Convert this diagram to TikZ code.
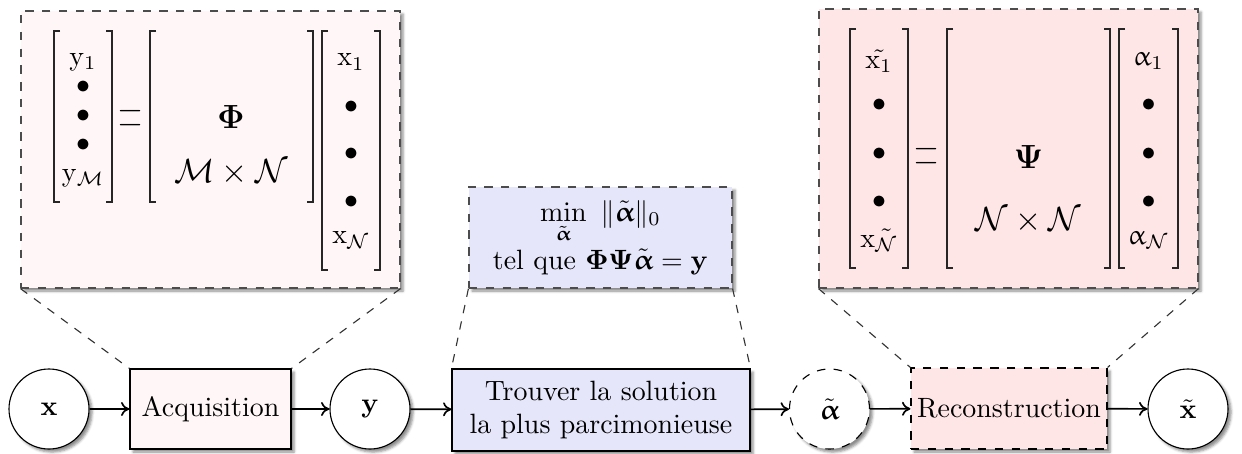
\documentclass[tikz,border=0pt]{standalone}
\usepackage{amsmath,amssymb,bm}
\usepackage[Euler]{upgreek}
\usetikzlibrary{shadows.blur,arrows.meta}
\definecolor{lpink}{HTML}{FFF7F7}
\definecolor{mpink}{HTML}{FFE6E6}
\definecolor{lblue}{HTML}{E6E6FA}
\newcommand\pxu{0.358pt}
\newcommand\mybrk[4]{%
  \draw[brk] (#1+6,#3) -- (#1,#3) -- (#1,#4) -- (#1+6,#4);
  \draw[brk] (#2-6,#3) -- (#2,#3) -- (#2,#4) -- (#2-6,#4);}
\begin{document}
\begin{tikzpicture}[x=0.358pt,y=-0.358pt,
  shd/.style={blur shadow={shadow xshift=1.1pt,shadow yshift=-1.1pt,shadow blur radius=0.9pt,shadow opacity=45}},
  bigbox/.style={draw=black!70,dashed,shd,inner sep=0pt},
  proc/.style={draw,shd,inner sep=0pt,align=center,font=\normalsize},
  circ/.style={circle,draw,fill=white,shd,minimum size=80*\pxu,inner sep=0pt},
  arr/.style={-{To[length=3pt,width=5pt]},semithick},
  link/.style={dashed,thin,black!80},
  brk/.style={thin,black!85},
  ent/.style={inner sep=0pt},
  eqs/.style={inner sep=0pt,align=center,font=\large}]
\useasboundingbox (0,0) rectangle (1242,453);
% big top boxes
\node[bigbox,fill=lpink,minimum width=379*\pxu,minimum height=277*\pxu] (lbox) at (210.5,149.5) {};
\node[bigbox,fill=mpink,minimum width=379*\pxu,minimum height=279*\pxu] (rbox) at (1008.5,148.5) {};
\node[bigbox,fill=lblue,minimum width=263*\pxu,minimum height=101*\pxu,align=center] (bbox) at (600.5,237.5)
  {$\displaystyle\min_{\tilde{\bm{\upalpha}}}\ \|\tilde{\bm{\upalpha}}\|_0$\\[1pt]
   tel que $\bm{\Phi\Psi}\tilde{\bm{\upalpha}}=\mathbf{y}$};
% bottom chain
\node[circ] (x) at (49,409) {$\mathbf{x}$};
\node[proc,fill=lpink,minimum width=161*\pxu,minimum height=80*\pxu] (acq) at (210.5,409) {Acquisition};
\node[circ] (y) at (370,409) {$\mathbf{y}$};
\node[proc,fill=lblue,minimum width=298*\pxu,minimum height=82*\pxu] (sol) at (601,410) {Trouver la solution\\la plus parcimonieuse};
\node[circ,dashed] (a) at (829.5,409) {$\tilde{\bm{\upalpha}}$};
\node[proc,dashed,fill=mpink,minimum width=196*\pxu,minimum height=81*\pxu] (rec) at (1009,408.5) {Reconstruction};
\node[circ] (xt) at (1188,409) {$\tilde{\mathbf{x}}$};
\draw[arr] (x) -- (acq);
\draw[arr] (acq) -- (y);
\draw[arr] (y) -- (sol);
\draw[arr] (sol) -- (a);
\draw[arr] (a) -- (rec);
\draw[arr] (rec) -- (xt);
% zoom links
\draw[link] (lbox.south west) -- (acq.north west);
\draw[link] (lbox.south east) -- (acq.north east);
\draw[link] (bbox.south west) -- (sol.north west);
\draw[link] (bbox.south east) -- (sol.north east);
\draw[link] (rbox.south west) -- (rec.north west);
\draw[link] (rbox.south east) -- (rec.north east);
% left equation
\mybrk{54}{112}{31}{202}
\node[ent] (y1) at (83,62) {$\mathrm{y}_1$};
\node[ent] (yb1) at (83,87) {$\bullet$};
\node[ent] (yb2) at (83,116) {$\bullet$};
\node[ent] (yb3) at (83,145) {$\bullet$};
\node[ent] (yM) at (83,178) {$\mathrm{y}_{\mathcal{M}}$};
\node[eqs] (eq1) at (131,118) {$-$\\[-9pt]$-$};
\mybrk{150}{313}{31}{202}
\node[ent] (phi) at (231,117) {\large$\bm{\Phi}$};
\node[ent] (mn) at (231,172) {\large$\mathcal{M}\times\mathcal{N}$};
\mybrk{322}{380}{31}{270}
\node[ent] (x1) at (351,62) {$\mathrm{x}_1$};
\node[ent] (xb1) at (351,107) {$\bullet$};
\node[ent] (xb2) at (351,154) {$\bullet$};
\node[ent] (xb3) at (351,202) {$\bullet$};
\node[ent] (xN) at (351,240) {$\mathrm{x}_{\mathcal{N}}$};
% right equation
\mybrk{850}{908}{29}{268}
\node[ent] (xt1) at (879,61) {$\tilde{\mathrm{x}_1}$};
\node[ent] (xtb1) at (879,105) {$\bullet$};
\node[ent] (xtb2) at (879,154) {$\bullet$};
\node[ent] (xtb3) at (879,202) {$\bullet$};
\node[ent] (xtN) at (879,240) {$\mathrm{x}\tilde{_{\mathcal{N}}}$};
\node[eqs] (eq2) at (927,156) {$-$\\[-9pt]$-$};
\mybrk{947}{1110}{29}{268}
\node[ent] (psi) at (1028.5,157) {\large$\bm{\Psi}$};
\node[ent] (nn) at (1028.5,220) {\large$\mathcal{N}\times\mathcal{N}$};
\mybrk{1119}{1178}{29}{268}
\node[ent] (a1) at (1148.5,61) {$\upalpha_1$};
\node[ent] (ab1) at (1148.5,105) {$\bullet$};
\node[ent] (ab2) at (1148.5,154) {$\bullet$};
\node[ent] (ab3) at (1148.5,202) {$\bullet$};
\node[ent] (aN) at (1148.5,240) {$\upalpha_{\mathcal{N}}$};
\end{tikzpicture}
\end{document}
